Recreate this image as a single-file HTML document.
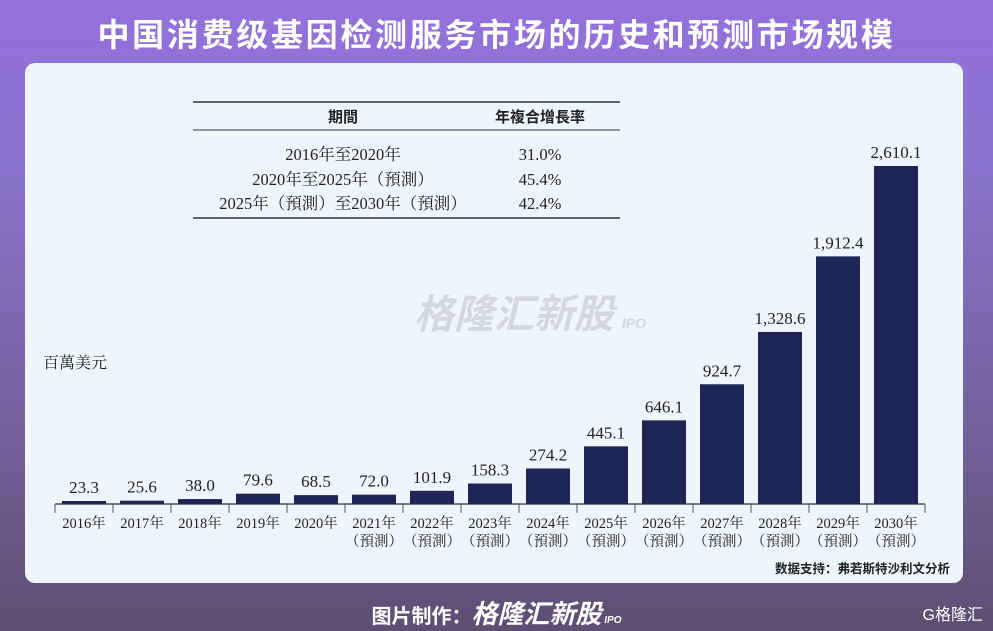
<!DOCTYPE html>
<html><head><meta charset="utf-8">
<style>
html,body{margin:0;padding:0;}
body{width:993px;height:631px;overflow:hidden;background:linear-gradient(180deg,#9470dc 0%,#8a74cf 25%,#76629f 65%,#5e4e72 100%);font-family:"Liberation Sans","Noto Sans CJK SC",sans-serif;position:relative;}
#title{position:absolute;left:0;width:993px;top:15px;text-align:center;color:#fff;font-size:32px;font-weight:bold;letter-spacing:2.7px;line-height:40px;}
#card{position:absolute;left:25px;top:63px;width:938px;height:520px;background:#eef6fd;border-radius:10px;}
#footer{position:absolute;top:594px;left:0;width:993px;text-align:center;color:#fff;font-size:20px;font-weight:bold;}
#brand{position:absolute;right:10px;top:601px;color:#fff;font-size:16px;}
svg{position:absolute;left:0;top:0;}
</style></head><body>
<div id="title">中国消费级基因检测服务市场的历史和预测市场规模</div>
<div id="card"></div>
<svg id="chart" width="993" height="631">
  <text x="530" y="328" text-anchor="middle" font-size="40" font-weight="bold" font-style="italic" fill="#c8ccd2" opacity="0.7" font-family="'Liberation Sans','Noto Sans CJK SC',sans-serif">格隆汇新股<tspan font-size="14" dx="8">IPO</tspan></text>
  <g font-family="'Liberation Serif','Noto Serif CJK SC',serif" fill="#222">
    <line x1="193" y1="102" x2="620" y2="102" stroke="#333" stroke-width="1.5"/>
    <line x1="193" y1="130" x2="620" y2="130" stroke="#333" stroke-width="1"/>
    <line x1="193" y1="218" x2="620" y2="218" stroke="#333" stroke-width="1.5"/>
    <text x="343" y="122" text-anchor="middle" font-size="15" font-weight="bold" font-family="'Liberation Sans','Noto Sans CJK SC',sans-serif">期間</text>
    <text x="540" y="122" text-anchor="middle" font-size="15" font-weight="bold" font-family="'Liberation Sans','Noto Sans CJK SC',sans-serif">年複合增長率</text>
    <text x="343" y="160" text-anchor="middle" font-size="16.5">2016年至2020年</text>
    <text x="540" y="160" text-anchor="middle" font-size="16.5">31.0%</text>
    <text x="343" y="185" text-anchor="middle" font-size="16.5">2020年至2025年（預測）</text>
    <text x="540" y="185" text-anchor="middle" font-size="16.5">45.4%</text>
    <text x="343" y="209" text-anchor="middle" font-size="16.5">2025年（預測）至2030年（預測）</text>
    <text x="540" y="209" text-anchor="middle" font-size="16.5">42.4%</text>
  </g>
  <text x="43" y="368" font-size="16" fill="#222" font-family="'Liberation Serif','Noto Serif CJK SC',serif">百萬美元</text>
  <g id="bars"></g>
  <text x="950" y="573" text-anchor="end" font-size="12.5" font-weight="bold" fill="#222">数据支持：弗若斯特沙利文分析</text>
</svg>
<div id="footer">图片制作：<span style="font-style:italic;font-size:26px;">格隆汇新股</span><span style="font-size:10px;font-style:italic;"> IPO</span></div>
<div id="brand">G格隆汇</div>
<script>
const years = ["2016年","2017年","2018年","2019年","2020年","2021年","2022年","2023年","2024年","2025年","2026年","2027年","2028年","2029年","2030年"];
const forecast = [false,false,false,false,false,true,true,true,true,true,true,true,true,true,true];
const values = [23.3,25.6,38.0,79.6,68.5,72.0,101.9,158.3,274.2,445.1,646.1,924.7,1328.6,1912.4,2610.1];
const valueLabels = ["23.3","25.6","38.0","79.6","68.5","72.0","101.9","158.3","274.2","445.1","646.1","924.7","1,328.6","1,912.4","2,610.1"];

const NS="http://www.w3.org/2000/svg";
const x0=55, x1=925, baseY=504, slot=(x1-x0)/years.length, barW=44;
const yMax=2610.1, hMax=338;
function xScale(i){return x0+slot*i+slot/2;}
function yScale(v){return baseY - v/yMax*hMax;}
const g=document.getElementById('bars');
function mk(tag,attrs){const e=document.createElementNS(NS,tag);for(const k in attrs)e.setAttribute(k,attrs[k]);return e;}
const axis=mk('line',{x1:x0,y1:baseY,x2:x1,y2:baseY,stroke:'#555','stroke-width':1.5});


g.appendChild(axis);
for(let i=0;i<=years.length;i++){
  const t=mk('line',{x1:x0+slot*i,y1:baseY,x2:x0+slot*i,y2:baseY+9,stroke:'#555','stroke-width':1});
  
  
  g.appendChild(t);
}
values.forEach((v,i)=>{
  const cx=xScale(i), top=yScale(v);
  const r=mk('rect',{x:cx-barW/2,y:top,width:barW,height:baseY-top,fill:'#1f2655'});
  
  
  g.appendChild(r);
  const lb=mk('text',{x:cx,y:top-8,'text-anchor':'middle','font-size':17,fill:'#222','font-family':"'Liberation Serif',serif"});
  lb.textContent=valueLabels[i];
  
  
  g.appendChild(lb);
  const yl=mk('text',{x:cx,y:528,'text-anchor':'middle','font-size':14.5,fill:'#222','font-family':"'Liberation Serif','Noto Serif CJK SC',serif"});
  yl.textContent=years[i];
  
  
  g.appendChild(yl);
  if(forecast[i]){
    const fl=mk('text',{x:cx,y:546,'text-anchor':'middle','font-size':14.5,fill:'#222','font-family':"'Liberation Serif','Noto Serif CJK SC',serif"});
    fl.textContent='（預測）';
    
    
    g.appendChild(fl);
  }
});
</script>
</body></html>
